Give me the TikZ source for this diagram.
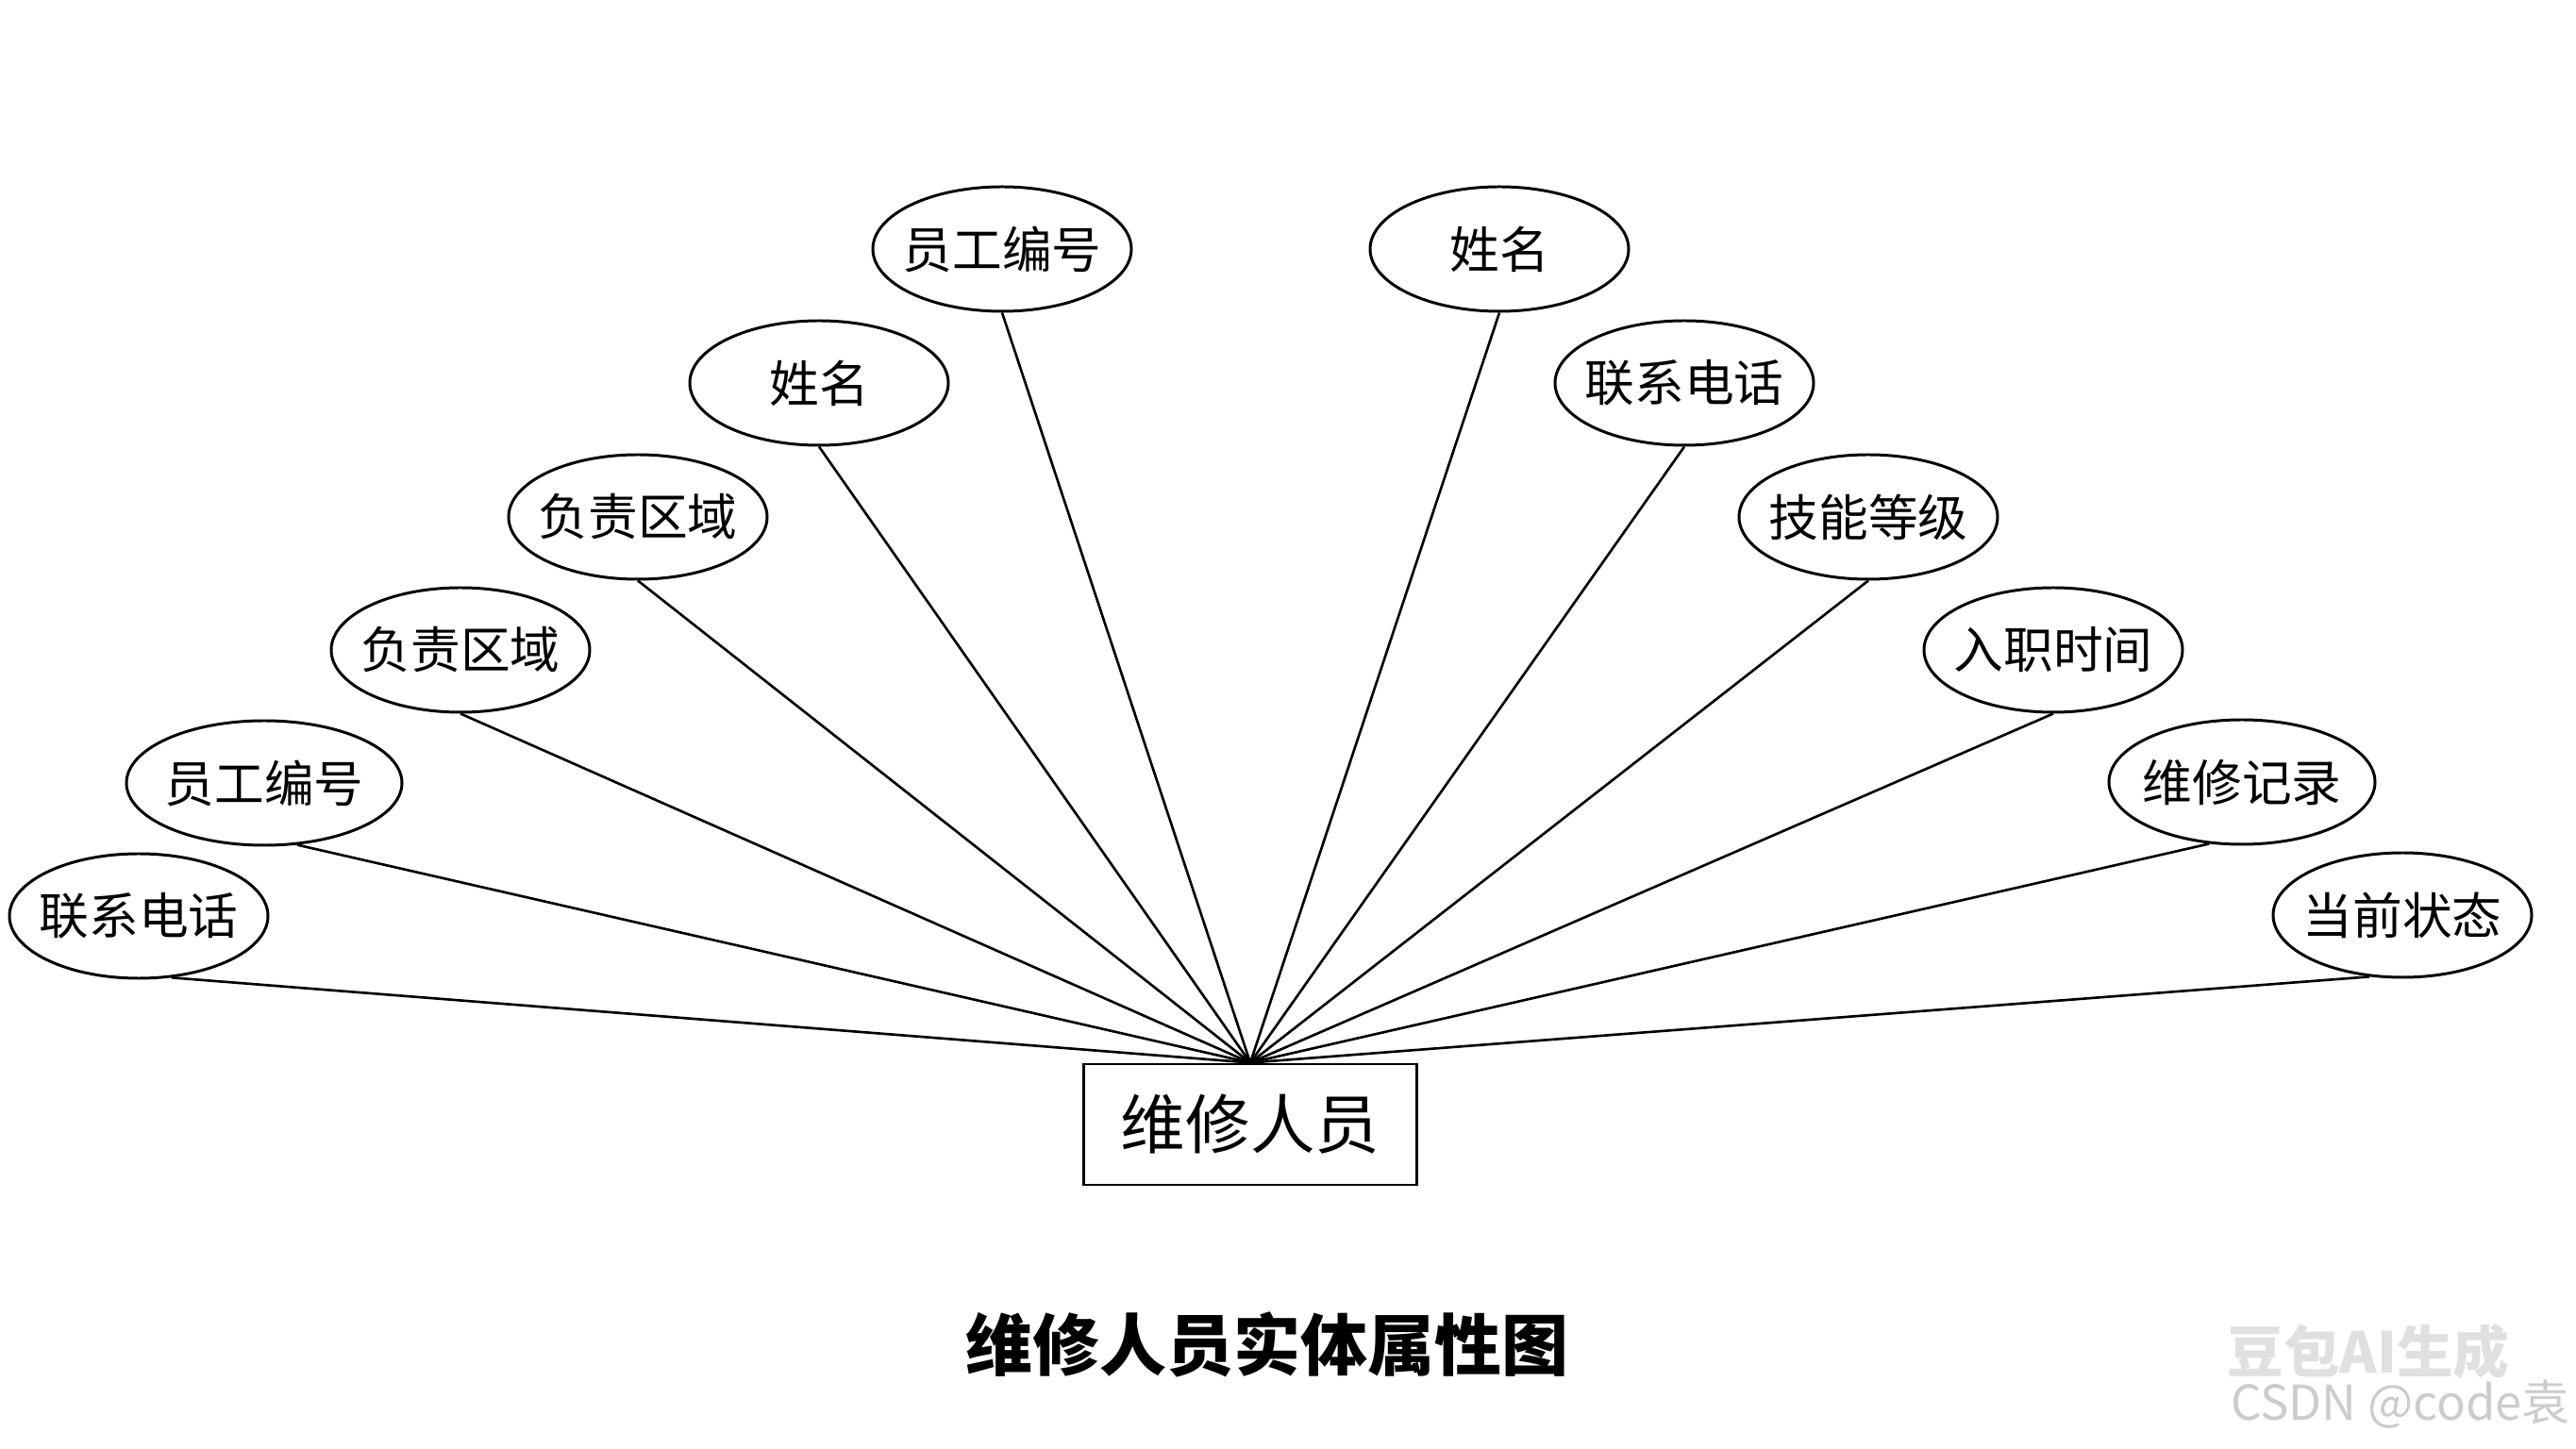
\documentclass[tikz,border=0pt]{standalone}
\usepackage{fontspec}
\setmainfont{Noto Sans CJK SC}
\usetikzlibrary{shapes.geometric}
\begin{document}
\begin{tikzpicture}[
  attr/.style={draw, ellipse, line width=0.85pt, minimum width=2.74cm, minimum height=1.32cm,
    inner xsep=-0.3cm, inner ysep=0pt, font=\fontsize{15pt}{18pt}\selectfont},
  entity/.style={draw, rectangle, line width=0.85pt, minimum width=3.53cm, minimum height=1.28cm,
    font=\fontsize{19.5pt}{23pt}\selectfont},
  link/.style={line width=0.75pt}]
  \useasboundingbox (0,0) rectangle (27.3,15.35);
  % 实体 (连线汇于上边中点)
  \node[entity] (ent) at (13.25,3.43) {维修人员};
  % 左侧属性, 自下而上
  \node[attr] (tel1) at (1.47,5.64) {联系电话};
  \node[attr, minimum width=2.92cm] (id1) at (2.80,7.05) {员工编号};
  \node[attr] (area1) at (4.88,8.46) {负责区域};
  \node[attr] (area2) at (6.76,9.87) {负责区域};
  \node[attr] (name1) at (8.68,11.29) {姓名};
  \node[attr] (id2) at (10.62,12.71) {员工编号};
  % 右侧属性, 自上而下
  \node[attr] (name2) at (15.89,12.71) {姓名};
  \node[attr] (tel2) at (17.85,11.29) {联系电话};
  \node[attr] (skill) at (19.80,9.87) {技能等级};
  \node[attr] (hire) at (21.76,8.46) {入职时间};
  \node[attr, minimum width=2.82cm] (rec) at (23.76,7.06) {维修记录};
  \node[attr] (stat) at (25.46,5.65) {当前状态};
  % 连线
  \draw[link] (tel1.-62) -- (ent.north);
  \draw[link] (id1.-62) -- (ent.north);
  \draw[link] (area1.south) -- (ent.north);
  \draw[link] (area2.south) -- (ent.north);
  \draw[link] (name1.south) -- (ent.north);
  \draw[link] (id2.south) -- (ent.north);
  \draw[link] (name2.south) -- (ent.north);
  \draw[link] (tel2.south) -- (ent.north);
  \draw[link] (skill.south) -- (ent.north);
  \draw[link] (hire.south) -- (ent.north);
  \draw[link] (rec.-118) -- (ent.north);
  \draw[link] (stat.-118) -- (ent.north);
  % 标题
  \node[font=\fontsize{20.2pt}{24pt}\selectfont\bfseries] (title) at (13.43,1.10) {维修人员实体属性图};
  % 水印
  \node[text=black!12, font=\fontsize{17pt}{20pt}\selectfont\bfseries] (wm1) at (25.10,1.02) {豆包AI生成};
  \node[text=black!20, font=\fontsize{14.5pt}{17pt}\selectfont] (wm2) at (25.44,0.46) {CSDN @code袁};
\end{tikzpicture}
\end{document}
